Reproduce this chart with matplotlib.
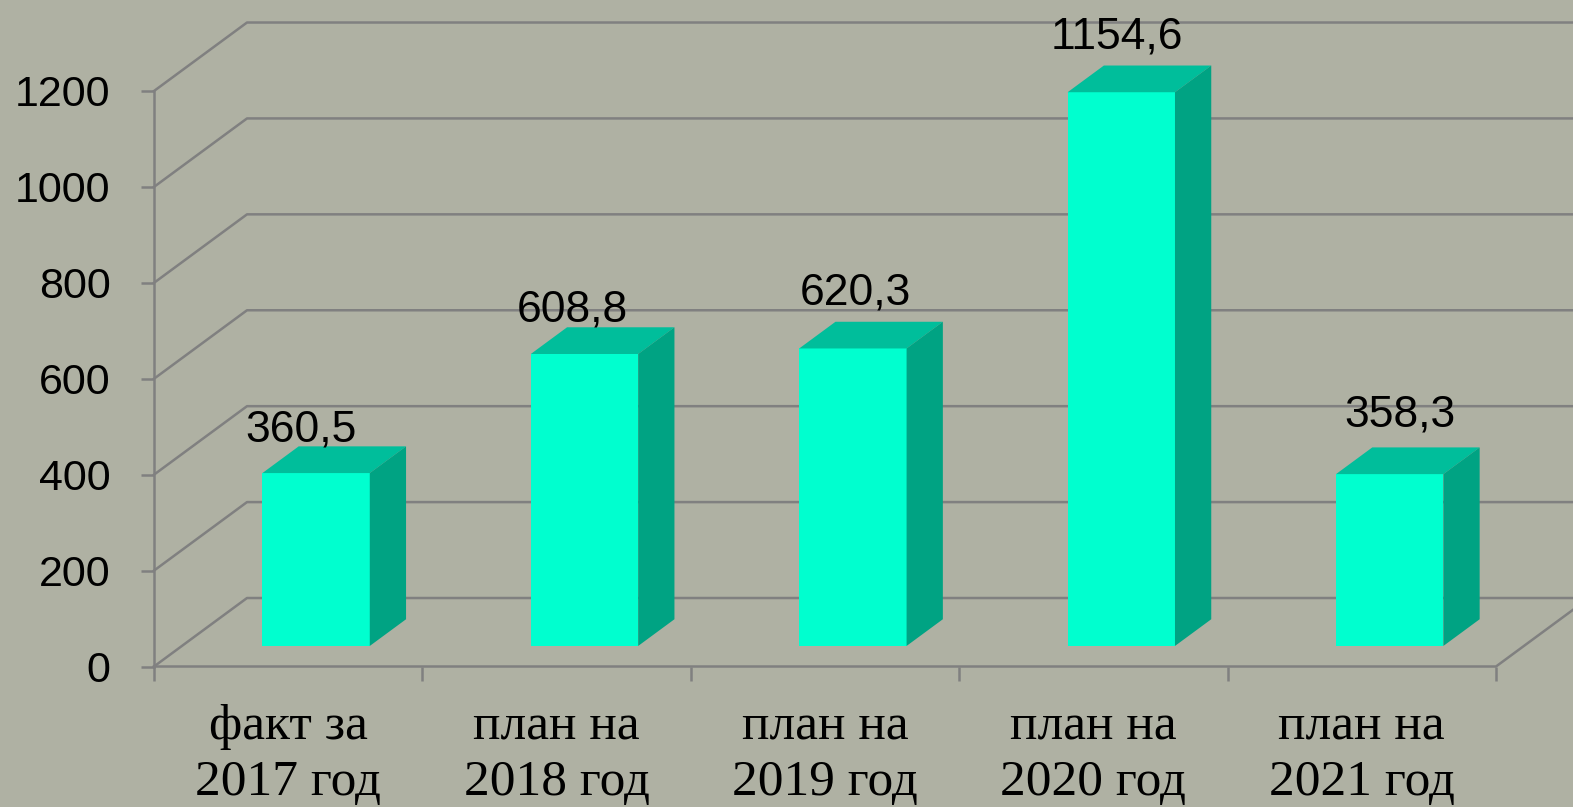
import numpy as np
import matplotlib.pyplot as plt
from matplotlib.patches import Polygon

# data
categories = ['факт за\n2017 год', 'план на\n2018 год', 'план на\n2019 год',
              'план на\n2020 год', 'план на\n2021 год']
values = [360.5, 608.8, 620.3, 1154.6, 358.3]
value_labels = ['360,5', '608,8', '620,3', '1154,6', '358,3']
y_ticks = [0, 200, 400, 600, 800, 1000, 1200]

# colours
bg = '#AFB1A3'
grid_col = '#808080'
front_col = '#00FFCF'
top_col = '#00BE9B'
side_col = '#00A383'

# pseudo 3d depth of the chart box (data units)
DX = 0.3465
DY = 142.8
bar_w = 0.4
bar_z0 = 0.3    # bar front at 30% of the depth
bar_dz = 0.39   # bar depth as fraction of the box depth

# little label nudges (pixels), Excel style placement
lab_dx = [-15, -12, 3, -4, 10]
lab_dy = [5, 6, 17, 17, 21]

fig = plt.figure(figsize=(15.73, 8.07), dpi=100)
fig.patch.set_facecolor(bg)
W, H = 1573, 807
ax = fig.add_axes([154 / W, 1 - 666.5 / H, (1496 - 154) / W, (666.5 - 91) / H])
ax.set_xlim(0, 5)
ax.set_ylim(0, 1200)
ax.patch.set_visible(False)
for s in ax.spines.values():
    s.set_visible(False)

# walls: diagonals + back horizontal lines
for v in y_ticks:
    ax.plot([0, DX, 5 + DX + 1], [v, v + DY, v + DY], color=grid_col,
            lw=1.8, clip_on=False, zorder=1)
# floor front edge and right diagonal
ax.plot([0, 5, 5 + DX], [0, 0, DY], color=grid_col, lw=1.8, clip_on=False, zorder=1)
# value axis
ax.plot([0, 0], [0, 1200], color=grid_col, lw=1.8, clip_on=False, zorder=1)

# bars
n = len(values)
x = np.arange(n) + 0.5 + bar_z0 * DX
base = bar_z0 * DY
ax.bar(x, values, width=bar_w, bottom=base, color=front_col, zorder=3)
d, e = bar_dz * DX, bar_dz * DY
for xi, v in zip(x, values):
    x0, x1 = xi - bar_w / 2, xi + bar_w / 2
    top = base + v
    ax.add_patch(Polygon([(x0, top), (x1, top), (x1 + d, top + e), (x0 + d, top + e)],
                         closed=True, fc=top_col, ec='none', zorder=3, clip_on=False))
    ax.add_patch(Polygon([(x1, base), (x1 + d, base + e), (x1 + d, top + e), (x1, top)],
                         closed=True, fc=side_col, ec='none', zorder=3, clip_on=False))

for i, (xi, v, lbl) in enumerate(zip(x, values, value_labels)):
    ax.annotate(lbl, xy=(xi, base + v + e), xytext=(lab_dx[i], lab_dy[i]),
                textcoords='offset pixels', ha='center', va='baseline',
                fontsize=32, family='Liberation Sans', color='black',
                annotation_clip=False, zorder=5)

# y axis ticks
ax.set_yticks(y_ticks)
ax.set_yticklabels([str(t) for t in y_ticks], fontsize=31, family='Liberation Sans')
ax.tick_params(axis='y', length=9.4, width=1.8, color=grid_col, pad=22)

# x axis: ticks at boundaries, labels at centres
ax.set_xticks(np.arange(n + 1))
ax.set_xticklabels([''] * (n + 1))
ax.set_xticks(np.arange(n) + 0.5, minor=True)
ax.set_xticklabels(categories, minor=True, fontsize=37, family='Liberation Serif',
                   linespacing=1.25)
ax.tick_params(axis='x', which='major', length=10, width=1.8, color=grid_col)
ax.tick_params(axis='x', which='minor', length=0, pad=27)

fig.savefig('out.png', dpi=100, facecolor=bg)
